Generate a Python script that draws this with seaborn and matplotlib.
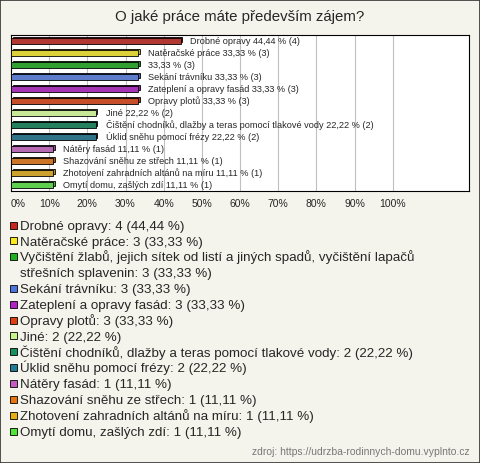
import pandas as pd
import matplotlib.pyplot as plt
import matplotlib.patheffects as pe
from matplotlib.patches import Rectangle
from matplotlib.colors import to_rgb
import seaborn as sns

# data
categories = [
    "Drobné opravy",
    "Natěračské práce",
    "Vyčištění žlabů, jejich sítek od listí a jiných spadů, vyčištění lapačů\nstřešních splavenin",
    "Sekání trávníku",
    "Zateplení a opravy fasád",
    "Opravy plotů",
    "Jiné",
    "Čištění chodníků, dlažby a teras pomocí tlakové vody",
    "Úklid sněhu pomocí frézy",
    "Nátěry fasád",
    "Shazování sněhu ze střech",
    "Zhotovení zahradních altánů na míru",
    "Omytí domu, zašlých zdí",
]
# names shown next to the bars (the long one is left out)
bar_names = categories[:2] + [""] + categories[3:]
counts = [4, 3, 3, 3, 3, 3, 2, 2, 2, 1, 1, 1, 1]
percents = [44.44, 33.33, 33.33, 33.33, 33.33, 33.33, 22.22, 22.22, 22.22,
            11.11, 11.11, 11.11, 11.11]
colors = ["#c8261b", "#f8e81c", "#1fb21f", "#4a74de", "#b41fc8", "#e0400e",
          "#c8f58a", "#169060", "#217a96", "#c45cbf", "#e8740f", "#e6ad14",
          "#4fe43a"]

def fmt(p):
    return f"{p:.2f}".replace(".", ",")

df = pd.DataFrame({"kat": categories, "pct": percents, "n": counts})

sns.set_style("white")
plt.rcParams["font.family"] = ["Liberation Sans", "DejaVu Sans"]

W, H = 480, 463
bg = "#f5f4ec"
fig = plt.figure(figsize=(4.8, 4.63), dpi=100, facecolor=bg)
ax = fig.add_axes([11 / W, 1 - 191 / H, 458 / W, 156 / H])
ax.set_facecolor("white")

sns.barplot(data=df, x="pct", y="kat", hue="kat", palette=colors,
            orient="h", width=0.42, legend=False, ax=ax,
            edgecolor="black", linewidth=0.6, zorder=3)

# fake 3D depth on each bar
for patch, c in zip(ax.patches, colors):
    dark = tuple(v * 0.8 for v in to_rgb(c))
    patch.set_path_effects([
        pe.PathPatchEffect(offset=(1.1, 1.1), facecolor=dark,
                           edgecolor="black", linewidth=0.6),
        pe.Normal(),
    ])

# labels next to bars
for i, (name, p, n) in enumerate(zip(bar_names, percents, counts)):
    txt = f"{name} {fmt(p)} % ({n})" if name else f"{fmt(p)} % ({n})"
    ax.annotate(txt, xy=(p, i), xytext=(7, 0), textcoords="offset points",
                va="center", ha="left", fontsize=6.6, zorder=4)

ax.set_xlim(0, 120)
ax.set_ylim(12.5, -0.5)
ticks = list(range(0, 101, 10))
ax.set_xticks(ticks)
ax.set_xticklabels([f"{t}%" for t in ticks], fontsize=7.5)
ax.get_xticklabels()[0].set_horizontalalignment("left")
ax.tick_params(axis="x", length=0, pad=6)
ax.set_yticks([])
ax.set_xlabel("")
ax.set_ylabel("")
ax.grid(axis="x", color="#c0c0c0", linewidth=0.8, zorder=0)
ax.set_axisbelow(True)
for s in ax.spines.values():
    s.set_color("black")
    s.set_linewidth(0.8)

fig.suptitle("O jaké práce máte především zájem?", y=1 - 17 / H,
             va="center", fontsize=10.8)

# legend below the chart, laid out row by row
line_h = 15.85
line = 0
for k, n, p, c in zip(categories, counts, percents, colors):
    y0 = 225 + line * line_h
    fig.add_artist(Rectangle((10 / W, 1 - (y0 + 3.5) / H), 7 / W, 7 / H,
                             transform=fig.transFigure, facecolor=c,
                             edgecolor="black", linewidth=0.6))
    parts = f"{k}: {n} ({fmt(p)} %)".split("\n")
    for part in parts:
        fig.text(20 / W, 1 - (225 + line * line_h + 4.8) / H, part,
                 ha="left", va="baseline", fontsize=9.6)
        line += 1

fig.text(470 / W, 1 - 452 / H, "zdroj: https://udrzba-rodinnych-domu.vyplnto.cz",
         ha="right", va="center", fontsize=7.5, color="#777777")

# outer border
fig.add_artist(Rectangle((0, 0), 1, 1, transform=fig.transFigure,
                         fill=False, edgecolor="#333333", linewidth=1.2))

plt.savefig("out.png", dpi=100, facecolor=bg)
